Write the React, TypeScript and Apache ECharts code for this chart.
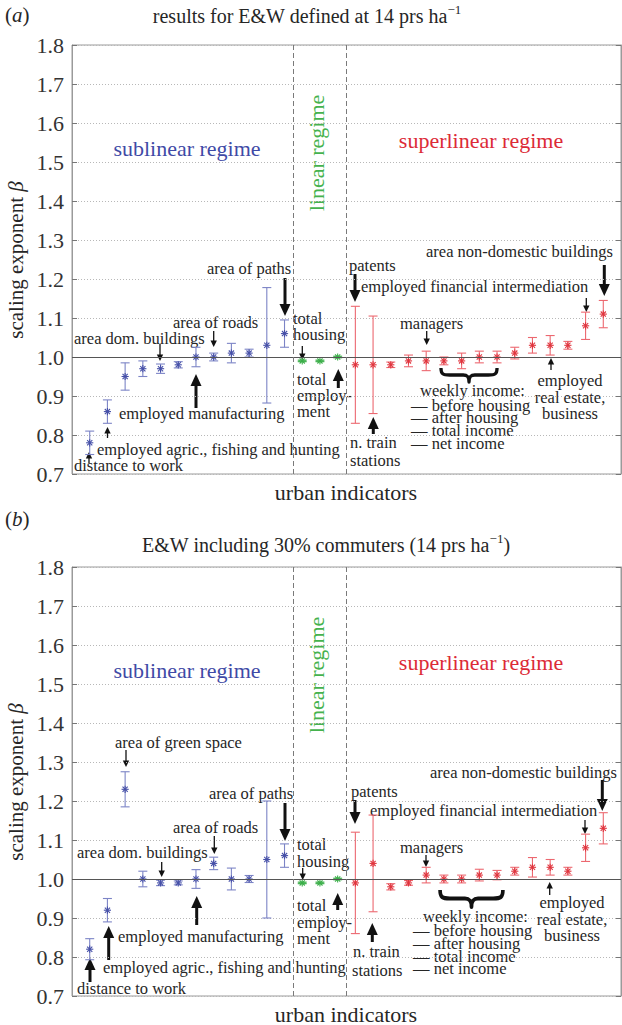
import React, { useEffect, useRef } from 'react';
import * as echarts from 'echarts';

// ---------- data ----------
// panel (a): results for E&W defined at 14 prs/ha
const SUB_A = [0.78, 0.86, 0.95, 0.97, 0.97, 0.98, 1.0, 1.0, 1.01, 1.01, 1.03, 1.06];
const SUB_A_ERR = [0.03, 0.03, 0.035, 0.02, 0.012, 0.008, 0.025, 0.01, 0.025, 0.01, 0.148, 0.035];
const LIN_A = [0.99, 0.99, 1.0];
const LIN_A_ERR = [0.002, 0.002, 0.002];
const SUP_A = [0.98, 0.98, 0.98, 0.99, 0.99, 0.99, 0.99, 1.0, 1.0, 1.01, 1.03, 1.03, 1.03, 1.08, 1.11];
const SUP_A_ERR = [0.15, 0.125, 0.007, 0.015, 0.025, 0.01, 0.02, 0.015, 0.015, 0.015, 0.02, 0.025, 0.01, 0.035, 0.035];
// panel (b): E&W including 30% commuters
const SUB_B = [0.82, 0.92, 1.23, 1.0, 0.99, 0.99, 1.0, 1.04, 1.0, 1.0, 1.05, 1.06];
const SUB_B_ERR = [0.027, 0.03, 0.045, 0.02, 0.007, 0.005, 0.024, 0.016, 0.028, 0.009, 0.15, 0.03];
const LIN_B = [0.99, 0.99, 1.0];
const LIN_B_ERR = [0.002, 0.002, 0.002];
const SUP_B = [0.99, 1.04, 0.98, 0.99, 1.01, 1.0, 1.0, 1.01, 1.01, 1.02, 1.03, 1.03, 1.02, 1.08, 1.13];
const SUP_B_ERR = [0.13, 0.124, 0.008, 0.006, 0.02, 0.01, 0.01, 0.015, 0.012, 0.01, 0.025, 0.02, 0.01, 0.035, 0.04];

const Y_MIN = 0.7;
const Y_MAX = 1.8;
const Y_STEP = 0.1;
const REGIME_BOUNDS = [12.5, 15.5];

const FONT = '"Liberation Serif", "Times New Roman", serif';
const INK = '#262626';
const BLUE = '#4650a8';
const BLUE_BAR = '#7c84c6';
const RED = '#e0353e';
const RED_BAR = '#ec6870';
const GREEN = '#3aae48';

echarts.graphic.registerShape(
  'brace',
  echarts.graphic.extendPath('M1,0 C1,6 3,7 10,7 L24,7 C28,7 30,8.5 30,14 C30,8.5 32,7 36,7 L50,7 C57,7 59,6 59,0', {})
);

function errSeries(start: number, vals: number[], errs: number[], mark: string, bar: string, g: number, extra?: any) {
  return {
    type: 'custom',
    xAxisIndex: g,
    yAxisIndex: g * 2,
    data: vals.map((v, i) => [start + i, v, v - errs[i], v + errs[i]]),
    renderItem: (params: any, api: any) => {
      const x = api.value(0);
      const p = api.coord([x, api.value(1)]);
      const lo = api.coord([x, api.value(2)]);
      const hi = api.coord([x, api.value(3)]);
      const cw = 4.5;
      const r = 3.6;
      const d = r * 0.72;
      const ls = { stroke: bar, lineWidth: 1.1 };
      const ms = { stroke: mark, lineWidth: 1.1 };
      return {
        type: 'group',
        children: [
          { type: 'line', shape: { x1: lo[0], y1: lo[1], x2: hi[0], y2: hi[1] }, style: ls },
          { type: 'line', shape: { x1: lo[0] - cw, y1: lo[1], x2: lo[0] + cw, y2: lo[1] }, style: ls },
          { type: 'line', shape: { x1: hi[0] - cw, y1: hi[1], x2: hi[0] + cw, y2: hi[1] }, style: ls },
          { type: 'line', shape: { x1: p[0] - r, y1: p[1], x2: p[0] + r, y2: p[1] }, style: ms },
          { type: 'line', shape: { x1: p[0], y1: p[1] - r, x2: p[0], y2: p[1] + r }, style: ms },
          { type: 'line', shape: { x1: p[0] - d, y1: p[1] - d, x2: p[0] + d, y2: p[1] + d }, style: ms },
          { type: 'line', shape: { x1: p[0] - d, y1: p[1] + d, x2: p[0] + d, y2: p[1] - d }, style: ms },
        ],
      };
    },
    ...(extra || {}),
  };
}

function refLines() {
  return {
    markLine: {
      silent: true,
      symbol: 'none',
      label: { show: false },
      data: [
        { yAxis: 1.0, lineStyle: { color: '#555', width: 1.2, type: 'solid' } },
        ...REGIME_BOUNDS.map((b) => ({ xAxis: b, lineStyle: { color: '#7a7a7a', width: 1, type: [5, 3] } })),
      ],
    },
  };
}

function txt(text: string, x: number, y: number, o: any = {}) {
  return {
    type: 'text',
    x,
    y,
    silent: true,
    rotation: o.rotation || 0,
    style: {
      text,
      fill: o.color || INK,
      fontSize: o.size || 16.5,
      fontFamily: FONT,
      fontStyle: o.italic ? 'italic' : 'normal',
      textAlign: o.align || 'left',
      align: o.align || 'left',
      textVerticalAlign: 'middle',
      verticalAlign: 'middle',
      rich: o.rich,
    },
  };
}

function arrow(x: number, y1: number, y2: number, big: boolean) {
  const dir = y2 > y1 ? 1 : -1;
  const hl = big ? 12 : 6.5;
  const hw = big ? 5.5 : 3.2;
  const lw = big ? 3 : 1.3;
  return {
    type: 'group',
    silent: true,
    children: [
      { type: 'line', shape: { x1: x, y1, x2: x, y2: y2 - dir * hl * 0.7 }, style: { stroke: '#111', lineWidth: lw } },
      {
        type: 'polygon',
        shape: { points: [[x - hw, y2 - dir * hl], [x + hw, y2 - dir * hl], [x, y2]] },
        style: { fill: '#111' },
      },
    ],
  };
}

function brace(x: number, y: number, w: number, h: number) {
  return { type: 'brace', x, y, scaleX: w / 60, scaleY: h / 14, silent: true, style: { fill: 'none', stroke: '#111', lineWidth: 3.4, lineJoin: 'round' } };
}

const supRich = {
  m: { fontSize: 20, fontFamily: FONT, fill: INK, color: INK, lineHeight: 26, verticalAlign: 'middle' },
  s: { fontSize: 13, fontFamily: FONT, fill: INK, color: INK, lineHeight: 13, verticalAlign: 'top' },
};
const labRich = {
  r: { fontSize: 21, fontFamily: FONT, fill: INK, color: INK },
  i: { fontSize: 21, fontFamily: FONT, fill: INK, color: INK, fontStyle: 'italic' },
};
const betaRich = {
  r: { fontSize: 21, fontFamily: FONT, fill: INK, color: INK },
  i: { fontSize: 21, fontFamily: FONT, fill: INK, color: INK, fontStyle: 'italic' },
};

function panelGraphics(dy: number) {
  const g: any[] = [];
  g.push(txt('sublinear regime', 187, 148 + dy, { size: 22, color: '#3f4aa6', align: 'center' }));
  g.push(txt('superlinear regime', 481, 140 + dy, { size: 22, color: '#dc2a36', align: 'center' }));
  g.push(txt('linear regime', 316, 153 + dy, { size: 22, color: '#45b24d', align: 'center', rotation: Math.PI / 2 }));
  g.push(txt('{r|scaling exponent }{i|β}', 16, 260 + dy, { align: 'center', rotation: Math.PI / 2, rich: betaRich }));
  g.push(txt('urban indicators', 346, 492 + dy, { size: 22, align: 'center' }));
  return g;
}

function annotationsA() {
  const g: any[] = [];
  g.push(txt('distance to work', 74, 465));
  g.push(arrow(89, 463, 452, false));
  g.push(txt('employed agric., fishing and hunting', 97, 449));
  g.push(arrow(107.5, 438, 427, false));
  g.push(txt('employed manufacturing', 119, 413));
  g.push(arrow(196, 408, 374, true));
  g.push(txt('area dom. buildings', 74, 338));
  g.push(arrow(160, 344, 361, false));
  g.push(txt('area of roads', 173, 322));
  g.push(arrow(213.7, 331, 347, false));
  g.push(txt('area of paths', 207, 268));
  g.push(arrow(285, 278, 316, true));
  g.push(txt('total', 293, 318));
  g.push(txt('housing', 293, 334));
  g.push(arrow(302.3, 346, 360, false));
  g.push(txt('total', 297, 379));
  g.push(txt('employ-', 297, 395));
  g.push(txt('ment', 297, 411));
  g.push(arrow(338.3, 388, 369, true));
  g.push(txt('patents', 349, 265));
  g.push(arrow(355, 274, 302, true));
  g.push(txt('employed financial intermediation', 361, 286));
  g.push(arrow(586.3, 298, 312, false));
  g.push(txt('area non-domestic buildings', 613, 251, { align: 'right' }));
  g.push(arrow(604.3, 265, 296, true));
  g.push(txt('managers', 400, 323));
  g.push(arrow(426.7, 331, 345, false));
  g.push(brace(440, 368, 58, 14));
  g.push(txt('weekly income:', 420, 390));
  g.push(txt('— before housing', 411, 405));
  g.push(txt('— after housing', 411, 417.5));
  g.push(txt('— total income', 411, 430.5));
  g.push(txt('— net income', 411, 443));
  g.push(txt('n. train', 350, 442));
  g.push(txt('stations', 350, 460));
  g.push(arrow(373.3, 434, 417, true));
  g.push(txt('employed', 570, 380, { align: 'center' }));
  g.push(txt('real estate,', 570, 397, { align: 'center' }));
  g.push(txt('business', 570, 413, { align: 'center' }));
  g.push(arrow(551, 370, 358, false));
  return g;
}

function annotationsB() {
  const g: any[] = [];
  g.push(txt('area of green space', 115, 742));
  g.push(arrow(126, 750, 767, false));
  g.push(txt('area of paths', 209, 793));
  g.push(arrow(285, 803, 841, true));
  g.push(txt('area of roads', 173, 827));
  g.push(arrow(214.3, 836, 854, false));
  g.push(txt('area dom. buildings', 77, 852));
  g.push(arrow(161.7, 862, 877, false));
  g.push(txt('total', 297, 844));
  g.push(txt('housing', 297, 861));
  g.push(arrow(302.7, 868, 880, false));
  g.push(txt('total', 297, 905));
  g.push(txt('employ-', 297, 922));
  g.push(txt('ment', 297, 938));
  g.push(arrow(337.7, 910, 893, true));
  g.push(txt('employed manufacturing', 118, 936));
  g.push(arrow(196.7, 925, 896, true));
  g.push(txt('employed agric., fishing and hunting', 103, 967));
  g.push(arrow(108.7, 960, 926, true));
  g.push(txt('distance to work', 77, 988));
  g.push(arrow(90, 982, 958, true));
  g.push(txt('patents', 351, 791));
  g.push(arrow(355, 800, 824, true));
  g.push(txt('employed financial intermediation', 370, 810));
  g.push(arrow(585, 820, 834, false));
  g.push(txt('area non-domestic buildings', 617, 772, { align: 'right' }));
  g.push(arrow(602.3, 780, 811, true));
  g.push(txt('managers', 400, 847));
  g.push(arrow(426, 855, 867, false));
  g.push(brace(439, 890, 65, 17));
  g.push(txt('weekly income:', 423, 916));
  g.push(txt('— before housing', 413, 930));
  g.push(txt('— after housing', 413, 943));
  g.push(txt('— total income', 413, 956));
  g.push(txt('— net income', 413, 968.5));
  g.push(txt('n. train', 353, 951));
  g.push(txt('stations', 352, 970));
  g.push(arrow(372.3, 942, 923, true));
  g.push(txt('employed', 572, 902, { align: 'center' }));
  g.push(txt('real estate,', 572, 919, { align: 'center' }));
  g.push(txt('business', 572, 935, { align: 'center' }));
  g.push(arrow(549.7, 895, 882, false));
  return g;
}

function yAxes(g: number) {
  const common = {
    type: 'value',
    gridIndex: g,
    min: Y_MIN,
    max: Y_MAX,
    interval: Y_STEP,
    axisLine: { show: true, lineStyle: { color: '#9a9a9a', width: 1 } },
    axisTick: { show: true, inside: true, length: 5, lineStyle: { color: '#777' } },
  };
  return [
    {
      ...common,
      position: 'left',
      axisLabel: { show: true, margin: 8, fontSize: 22, fontFamily: FONT, color: '#333', formatter: (v: number) => v.toFixed(1) },
      splitLine: { show: true, lineStyle: { color: '#b8b8b8', type: [1, 2], width: 1 } },
    },
    {
      ...common,
      position: 'right',
      axisLabel: { show: false },
      splitLine: { show: false },
    },
  ];
}

function buildOption() {
  const grids = [
    { left: 72, top: 45, width: 549, height: 429 },
    { left: 72, top: 567, width: 549, height: 429 },
  ].map((g) => ({ ...g, show: true, borderColor: '#9a9a9a', borderWidth: 1, backgroundColor: 'transparent' }));
  const xAxes = [0, 1].map((g) => ({ type: 'value', gridIndex: g, min: 0, max: 31, show: false }));
  const series = [
    errSeries(1, SUB_A, SUB_A_ERR, BLUE, BLUE_BAR, 0, refLines()),
    errSeries(13, LIN_A, LIN_A_ERR, GREEN, GREEN, 0),
    errSeries(16, SUP_A, SUP_A_ERR, RED, RED_BAR, 0),
    errSeries(1, SUB_B, SUB_B_ERR, BLUE, BLUE_BAR, 1, refLines()),
    errSeries(13, LIN_B, LIN_B_ERR, GREEN, GREEN, 1),
    errSeries(16, SUP_B, SUP_B_ERR, RED, RED_BAR, 1),
  ];
  const graphic = [
    txt('{r|(}{i|a}{r|)}', 5, 15, { rich: labRich }),
    txt('{m|results for E&W defined at 14 prs ha}{s|−1}', 307, 16, { align: 'center', rich: supRich }),
    txt('{r|(}{i|b}{r|)}', 5, 519, { rich: labRich }),
    txt('{m|E&W including 30% commuters (14 prs ha}{s|−1}{m|)}', 326, 545, { align: 'center', rich: supRich }),
    ...panelGraphics(0),
    ...panelGraphics(522),
    ...annotationsA(),
    ...annotationsB(),
  ];
  return {
    animation: false,
    backgroundColor: '#ffffff',
    grid: grids,
    xAxis: xAxes,
    yAxis: [...yAxes(0), ...yAxes(1)],
    series,
    graphic,
  };
}

export default function App() {
  const ref = useRef<HTMLDivElement>(null);
  useEffect(() => {
    const chart = echarts.init(ref.current!, null, { renderer: 'svg' });
    chart.setOption(buildOption() as any);
    return () => chart.dispose();
  }, []);
  return (
    <div
      ref={ref}
      style={{ position: 'absolute', left: 0, top: 0, width: 622, height: 1025, background: '#fff' }}
    />
  );
}
